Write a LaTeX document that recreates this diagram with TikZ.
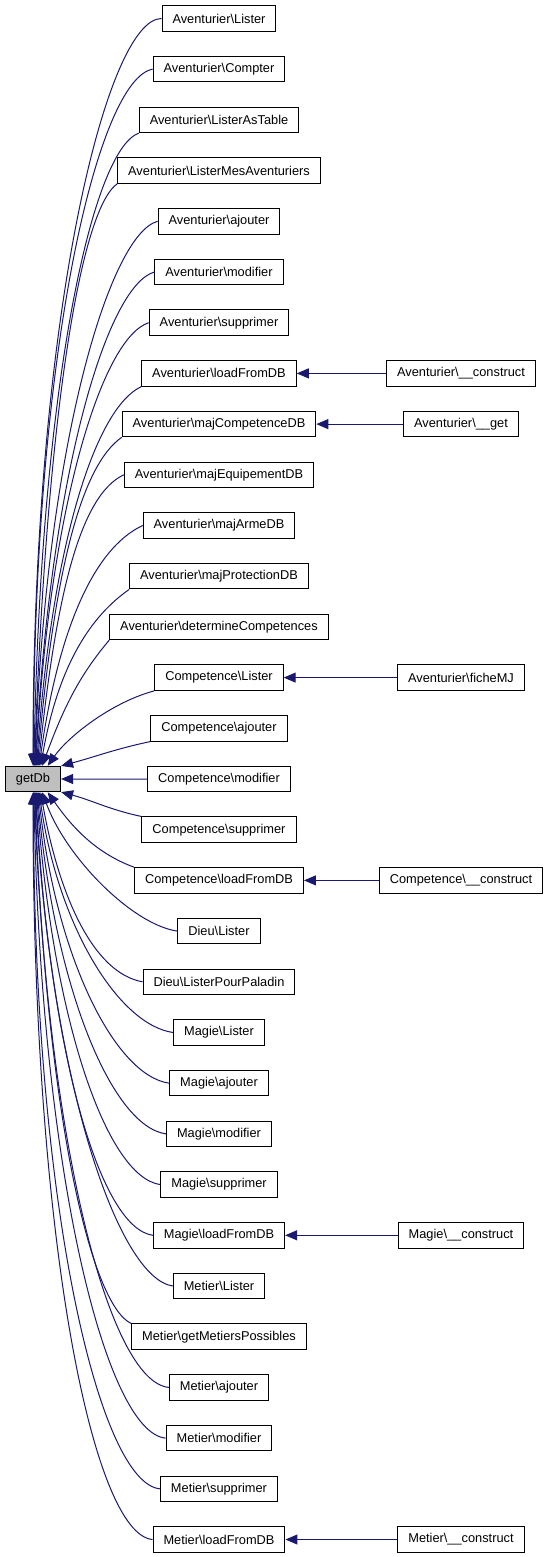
\documentclass[tikz,border=0pt]{standalone}
\usepackage{fontspec}
\setmainfont{Liberation Sans}
\usetikzlibrary{positioning, arrows.meta}
\definecolor{edgeblue}{HTML}{191970}
\definecolor{boxgray}{HTML}{BFBFBF}

\begin{document}
\begin{tikzpicture}[x=1pt, y=1pt, node distance=50.7pt,
    fn/.style={rectangle, draw=black, line width=1pt, fill=white,
      minimum height=25.5pt, inner xsep=10.5pt, inner ysep=0pt,
      font=\fontsize{12.8}{15}\selectfont},
    call/.style={draw=edgeblue, line width=1pt,
      -{Triangle[length=12pt, width=10pt]}}]

    \fill[white] (0,0) rectangle (549,-1557);
    \useasboundingbox (0,0) rectangle (549,-1557);

    % the function itself
    \node[fn, fill=boxgray] (getDb) at (33,-779) {getDb};

    % its callers
    \node[fn] (alist) at (219,-18.5) {Aventurier\textbackslash Lister};
    \node[fn, below of=alist] (acompt) {Aventurier\textbackslash Compter};
    \node[fn, below of=acompt] (atable) {Aventurier\textbackslash ListerAsTable};
    \node[fn, below of=atable] (ames) {Aventurier\textbackslash ListerMesAventuriers};
    \node[fn, below of=ames] (aajout) {Aventurier\textbackslash ajouter};
    \node[fn, below of=aajout] (amodif) {Aventurier\textbackslash modifier};
    \node[fn, below of=amodif] (asuppr) {Aventurier\textbackslash supprimer};
    \node[fn, below of=asuppr] (aload) {Aventurier\textbackslash loadFromDB};
    \node[fn, below of=aload] (amajc) {Aventurier\textbackslash majCompetenceDB};
    \node[fn, below of=amajc] (amaje) {Aventurier\textbackslash majEquipementDB};
    \node[fn, below of=amaje] (amaja) {Aventurier\textbackslash majArmeDB};
    \node[fn, below of=amaja] (amajp) {Aventurier\textbackslash majProtectionDB};
    \node[fn, below of=amajp] (adeter) {Aventurier\textbackslash determineCompetences};
    \node[fn, below of=adeter] (clist) {Competence\textbackslash Lister};
    \node[fn, below of=clist] (cajout) {Competence\textbackslash ajouter};
    \node[fn, below of=cajout] (cmodif) {Competence\textbackslash modifier};
    \node[fn, below of=cmodif] (csuppr) {Competence\textbackslash supprimer};
    \node[fn, below of=csuppr] (cload) {Competence\textbackslash loadFromDB};
    \node[fn, below of=cload] (dlist) {Dieu\textbackslash Lister};
    \node[fn, below of=dlist] (dpal) {Dieu\textbackslash ListerPourPaladin};
    \node[fn, below of=dpal] (mglist) {Magie\textbackslash Lister};
    \node[fn, below of=mglist] (mgajout) {Magie\textbackslash ajouter};
    \node[fn, below of=mgajout] (mgmodif) {Magie\textbackslash modifier};
    \node[fn, below of=mgmodif] (mgsuppr) {Magie\textbackslash supprimer};
    \node[fn, below of=mgsuppr] (mgload) {Magie\textbackslash loadFromDB};
    \node[fn, below of=mgload] (mtlist) {Metier\textbackslash Lister};
    \node[fn, below of=mtlist] (mtposs) {Metier\textbackslash getMetiersPossibles};
    \node[fn, below of=mtposs] (mtajout) {Metier\textbackslash ajouter};
    \node[fn, below of=mtajout] (mtmodif) {Metier\textbackslash modifier};
    \node[fn, below of=mtmodif] (mtsuppr) {Metier\textbackslash supprimer};
    \node[fn, below of=mtsuppr] (mtload) {Metier\textbackslash loadFromDB};

    % second level callers
    \node[fn, right of=aload, xshift=191.3pt] (acons) {Aventurier\textbackslash\_\_construct};
    \node[fn, right of=amajc, xshift=191.3pt] (aget) {Aventurier\textbackslash\_\_get};
    \node[fn, right of=clist, xshift=191.3pt] (afiche) {Aventurier\textbackslash ficheMJ};
    \node[fn, right of=cload, xshift=191.3pt] (ccons) {Competence\textbackslash\_\_construct};
    \node[fn, right of=mgload, xshift=191.3pt] (mgcons) {Magie\textbackslash\_\_construct};
    \node[fn, right of=mtload, xshift=191.3pt] (mtcons) {Metier\textbackslash\_\_construct};

    % calls from above
    \draw[call] (alist.west) to[out=180, in=90, out distance=55pt, in distance=450pt] (getDb.90);
    \draw[call] (acompt.west) to[out=190, in=90, out distance=55pt, in distance=420pt] (getDb.88);
    \draw[call] (atable.south west) to[out=200, in=89, out distance=50pt, in distance=380pt] (getDb.86);
    \draw[call] (ames.south west) to[out=215, in=88, out distance=45pt, in distance=350pt] (getDb.84);
    \draw[call] (aajout.west) to[out=195, in=88, out distance=50pt, in distance=320pt] (getDb.82);
    \draw[call] (amodif.west) to[out=196, in=87, out distance=50pt, in distance=290pt] (getDb.80);
    \draw[call] (asuppr.west) to[out=198, in=87, out distance=50pt, in distance=255pt] (getDb.78);
    \draw[call] (aload.south west) to[out=205, in=86, out distance=50pt, in distance=225pt] (getDb.75);
    \draw[call] (amajc.south west) to[out=215, in=85, out distance=50pt, in distance=195pt] (getDb.72);
    \draw[call] (amaje.west) to[out=205, in=84, out distance=50pt, in distance=165pt] (getDb.68);
    \draw[call] (amaja.west) to[out=205, in=82, out distance=55pt, in distance=135pt] (getDb.65);
    \draw[call] (amajp.south west) to[out=215, in=80, out distance=45pt, in distance=105pt] (getDb.60);
    \draw[call] (adeter.south west) to[out=230, in=70, out distance=40pt, in distance=70pt] (getDb.55);
    \draw[call] (clist.south west) to[out=195, in=55, out distance=45pt, in distance=35pt] (getDb.42);
    \draw[call] (cajout.south west) to[out=192, in=15] (getDb.25);
    \draw[call] (cmodif) -- (getDb);

    % calls from below
    \draw[call] (csuppr.north west) to[out=168, in=-15] (getDb.-25);
    \draw[call] (cload.north west) to[out=160, in=-55, out distance=45pt, in distance=35pt] (getDb.-42);
    \draw[call] (dlist.west) to[out=172, in=-70, out distance=45pt, in distance=70pt] (getDb.-55);
    \draw[call] (dpal.west) to[out=170, in=-80, out distance=50pt, in distance=105pt] (getDb.-60);
    \draw[call] (mglist.west) to[out=172, in=-82, out distance=55pt, in distance=135pt] (getDb.-65);
    \draw[call] (mgajout.west) to[out=172, in=-84, out distance=55pt, in distance=165pt] (getDb.-68);
    \draw[call] (mgmodif.west) to[out=172, in=-85, out distance=55pt, in distance=195pt] (getDb.-72);
    \draw[call] (mgsuppr.west) to[out=172, in=-86, out distance=55pt, in distance=225pt] (getDb.-75);
    \draw[call] (mgload.west) to[out=172, in=-87, out distance=55pt, in distance=255pt] (getDb.-78);
    \draw[call] (mtlist.west) to[out=172, in=-87, out distance=55pt, in distance=290pt] (getDb.-80);
    \draw[call] (mtposs.north west) to[out=155, in=-88, out distance=45pt, in distance=320pt] (getDb.-82);
    \draw[call] (mtajout.west) to[out=175, in=-88, out distance=60pt, in distance=350pt] (getDb.-84);
    \draw[call] (mtmodif.west) to[out=175, in=-89, out distance=60pt, in distance=380pt] (getDb.-86);
    \draw[call] (mtsuppr.west) to[out=175, in=-90, out distance=60pt, in distance=420pt] (getDb.-88);
    \draw[call] (mtload.west) to[out=175, in=-90, out distance=60pt, in distance=450pt] (getDb.-90);

    % second level calls
    \draw[call] (acons) -- (aload);
    \draw[call] (aget) -- (amajc);
    \draw[call] (afiche) -- (clist);
    \draw[call] (ccons) -- (cload);
    \draw[call] (mgcons) -- (mgload);
    \draw[call] (mtcons) -- (mtload);
\end{tikzpicture}
\end{document}
